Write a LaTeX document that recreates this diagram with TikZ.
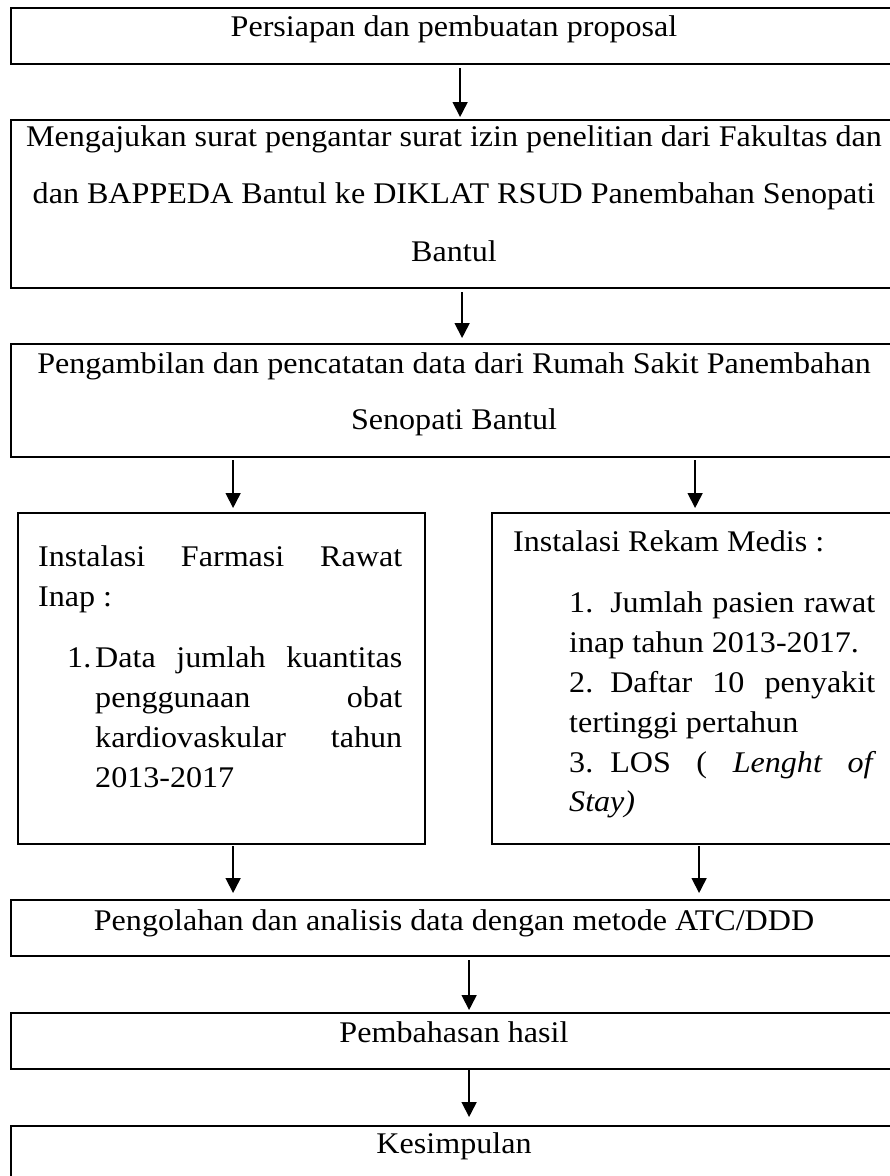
\documentclass[tikz,border=0pt]{standalone}
\usepackage{fontspec}
\setmainfont{Liberation Serif}[FakeStretch=1.07]
\usetikzlibrary{arrows.meta}
\hbadness=10000
\frenchspacing
\tikzset{
  box/.style={draw, line width=2.2pt, inner sep=0pt, anchor=north west},
  txt/.style={inner sep=0pt, font=\fontsize{30}{36}\selectfont\frenchspacing},
  arr/.style={line width=1.7pt, -{Triangle[width=15pt,length=15pt]}},
}
\newcommand{\jline}[2]{\makebox[#1][s]{#2}}
\begin{document}
\begin{tikzpicture}[x=1pt,y=-1pt]
\useasboundingbox (0,0) rectangle (890,1176);
\clip (0,0) rectangle (890,1176);
% boxes
\node[box, minimum width=888pt, minimum height=56pt] (A) at (10,7) {};
\node[box, minimum width=888pt, minimum height=168pt] (B) at (10,119) {};
\node[box, minimum width=888pt, minimum height=113pt] (C) at (10,343) {};
\node[box, minimum width=407pt, minimum height=331pt] (D) at (17,512) {};
\node[box, minimum width=407pt, minimum height=331pt] (E) at (491,512) {};
\node[box, minimum width=888pt, minimum height=56pt] (F) at (10,899) {};
\node[box, minimum width=888pt, minimum height=56pt] (G) at (10,1012) {};
\node[box, minimum width=888pt, minimum height=56pt] (H) at (10,1125) {};
% texts
\node[txt, anchor=base] (At) at (454,36) {Persiapan dan pembuatan proposal};
\node[txt, anchor=base] (B1) at (454,146) {Mengajukan surat pengantar surat izin penelitian dari Fakultas dan};
\node[txt, anchor=base] (B2) at (454,203.5) {dan BAPPEDA Bantul ke DIKLAT RSUD Panembahan Senopati};
\node[txt, anchor=base] (B3) at (454,261) {Bantul};
\node[txt, anchor=base] (C1) at (454,373) {Pengambilan dan pencatatan data dari Rumah Sakit Panembahan};
\node[txt, anchor=base] (C2) at (454,429) {Senopati Bantul};
% left column
\node[txt, anchor=base west] (D1) at (38,566) {\jline{364pt}{Instalasi Farmasi Rawat}};
\node[txt, anchor=base west] (D2) at (38,606.5) {Inap :};
\node[txt, anchor=base west] (D3n) at (67,667) {1.};
\node[txt, anchor=base west] (D3) at (95,667) {\jline{307pt}{Data jumlah kuantitas}};
\node[txt, anchor=base west] (D4) at (95,707) {\jline{307pt}{penggunaan obat}};
\node[txt, anchor=base west] (D5) at (95,747) {\jline{307pt}{kardiovaskular tahun}};
\node[txt, anchor=base west] (D6) at (95,787) {2013-2017};
% right column
\node[txt, anchor=base west] (E1) at (513,551) {Instalasi Rekam Medis :};
\node[txt, anchor=base west] (E2) at (569,612) {\jline{306pt}{1.\hspace*{17pt}Jumlah pasien rawat}};
\node[txt, anchor=base west] (E3) at (569,652) {inap tahun 2013-2017.};
\node[txt, anchor=base west] (E4) at (569,692) {\jline{306pt}{2.\hspace*{17pt}Daftar 10 penyakit}};
\node[txt, anchor=base west] (E5) at (569,732) {tertinggi pertahun};
\node[txt, anchor=base west] (E6) at (569,772) {\jline{307pt}{3.\hspace*{17pt}LOS ( \textit{Lenght of}}};
\node[txt, anchor=base west] (E7) at (569,811) {\textit{Stay)}};
% lower texts
\node[txt, anchor=base] (Ft) at (454,930) {Pengolahan dan analisis data dengan metode ATC/DDD};
\node[txt, anchor=base] (Gt) at (454,1042) {Pembahasan hasil};
\node[txt, anchor=base] (Ht) at (454,1153) {Kesimpulan};
% arrows
\draw[arr, shorten <=3pt, shorten >=2pt] ([xshift=5pt]A.south) -- ([xshift=5pt]B.north);
\draw[arr, shorten <=3pt, shorten >=5pt] ([xshift=7pt]B.south) -- ([xshift=7pt]C.north);
\draw[arr, shorten <=2pt, shorten >=4pt] ([xshift=-222pt]C.south) -- ([xshift=11.5pt]D.north);
\draw[arr, shorten <=2pt, shorten >=4pt] ([xshift=240pt]C.south) -- ([xshift=-0.5pt]E.north);
\draw[arr, shorten <=1pt, shorten >=6pt] ([xshift=11.5pt]D.south) -- ([xshift=-222pt]F.north);
\draw[arr, shorten <=1pt, shorten >=6pt] ([xshift=3.5pt]E.south) -- ([xshift=244pt]F.north);
\draw[arr, shorten <=3pt, shorten >=2pt] ([xshift=14pt]F.south) -- ([xshift=14pt]G.north);
\draw[arr, shorten <=0pt, shorten >=8pt] ([xshift=14pt]G.south) -- ([xshift=14pt]H.north);
\end{tikzpicture}
\end{document}
